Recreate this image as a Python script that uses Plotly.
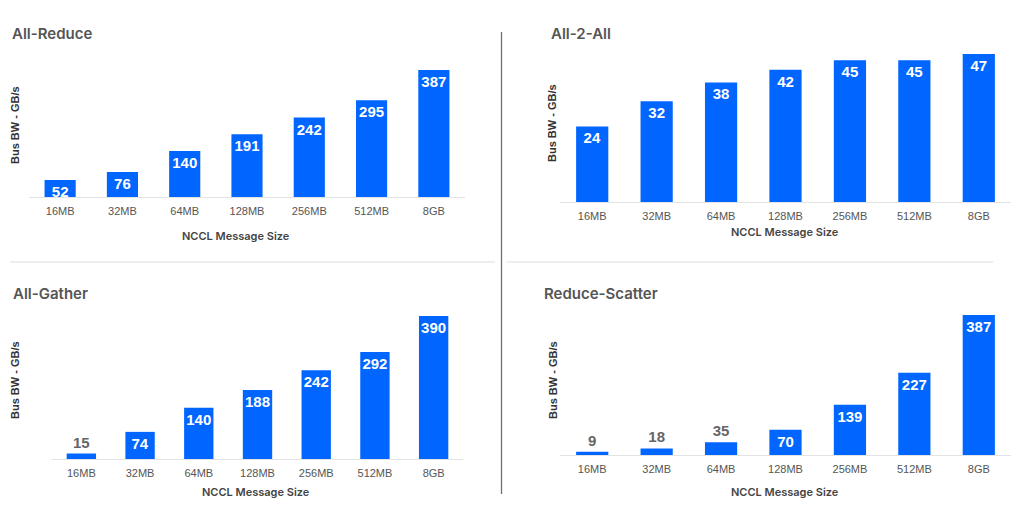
import plotly.graph_objects as go

W, H = 1024, 510

categories = ["16MB", "32MB", "64MB", "128MB", "256MB", "512MB", "8GB"]
titles = ["All-Reduce", "All-2-All", "All-Gather", "Reduce-Scatter"]
all_reduce = [52, 76, 140, 191, 242, 295, 387]
all_2_all = [24, 32, 38, 42, 45, 45, 47]
all_gather = [15, 74, 140, 188, 242, 292, 390]
reduce_scatter = [9, 18, 35, 70, 139, 227, 387]
series = [all_reduce, all_2_all, all_gather, reduce_scatter]

y_title = "Bus BW - GB/s"
x_title = "NCCL Message Size"

# layout in pixels: (x_left, x_right, y_top, y_bottom, ymax)
panels = [
    (29, 465, 59.2, 197, 420),
    (560, 1011, 44.6, 202, 50),
    (52, 463, 305, 459, 420),
    (560, 1011, 303, 455, 420),
]
title_pos = [(10, 34), (549, 34), (11, 293), (542, 293)]
ytitle_pos = [(15, 125), (552, 123), (15, 380), (553, 380)]
xtitle_pos = [(236, 236), (785, 232), (256, 492), (785, 492)]

BLUE = "#0066FF"
GREY = "#666666"

def px_x(v):
    return v / W

def px_y(v):
    return 1 - v / H

fig = go.Figure()
annotations = []
for i, (vals, (xl, xr, yt, yb, ymax)) in enumerate(zip(series, panels)):
    n = i + 1
    xa = "x" if n == 1 else f"x{n}"
    ya = "y" if n == 1 else f"y{n}"
    vmax = max(vals)
    positions = ["outside" if v < 0.1 * vmax else "inside" for v in vals]
    fig.add_trace(go.Bar(
        x=categories, y=vals, xaxis=xa, yaxis=ya,
        marker=dict(color=BLUE, line=dict(width=0)),
        width=0.5,
        text=[str(v) for v in vals],
        textposition=positions,
        insidetextanchor="end",
        constraintext="none",
        textangle=0,
        cliponaxis=False,
        textfont=dict(family="Liberation Sans, Arial", size=15, weight=700),
        insidetextfont=dict(color="white", family="Liberation Sans, Arial", size=15, weight=700),
        outsidetextfont=dict(color=GREY, family="Liberation Sans, Arial", size=15, weight=700),
        hoverinfo="x+y",
        showlegend=False,
    ))
    xkey = "xaxis" if n == 1 else f"xaxis{n}"
    ykey = "yaxis" if n == 1 else f"yaxis{n}"
    fig.layout[xkey] = dict(
        domain=[px_x(xl), px_x(xr)], anchor=ya,
        showline=True, linecolor="#e3e3e3", linewidth=1,
        showgrid=False, zeroline=False,
        ticks="outside", ticklen=4, tickcolor="rgba(0,0,0,0)",
        tickfont=dict(family="Liberation Sans, Arial", size=11, color="#555555"),
        fixedrange=True,
    )
    fig.layout[ykey] = dict(
        domain=[px_y(yb), px_y(yt)], anchor=xa,
        range=[0, ymax], visible=False, fixedrange=True,
    )
    tx, ty = title_pos[i]
    annotations.append(dict(
        text=titles[i], x=px_x(tx), y=px_y(ty), xref="paper", yref="paper",
        xanchor="left", yanchor="middle", showarrow=False,
        font=dict(family="Inter, Open Sans", size=15, color="#555555", weight=600),
    ))
    yx, yy = ytitle_pos[i]
    annotations.append(dict(
        text=y_title, x=px_x(yx), y=px_y(yy), xref="paper", yref="paper",
        xanchor="center", yanchor="middle", showarrow=False, textangle=-90,
        font=dict(family="Liberation Sans, Arial", size=11, color="#333333", weight=700),
    ))
    xx, xy = xtitle_pos[i]
    annotations.append(dict(
        text=x_title, x=px_x(xx), y=px_y(xy), xref="paper", yref="paper",
        xanchor="center", yanchor="middle", showarrow=False,
        font=dict(family="Inter, Open Sans", size=11, color="#444444", weight=600),
    ))

shapes = [
    dict(type="line", xref="paper", yref="paper",
         x0=px_x(501.5), x1=px_x(501.5), y0=px_y(32), y1=px_y(494),
         line=dict(color="#707070", width=1.3)),
    dict(type="line", xref="paper", yref="paper",
         x0=px_x(10), x1=px_x(495), y0=px_y(262), y1=px_y(262),
         line=dict(color="#dddddd", width=1)),
    dict(type="line", xref="paper", yref="paper",
         x0=px_x(507), x1=px_x(993), y0=px_y(262), y1=px_y(262),
         line=dict(color="#dddddd", width=1)),
]

fig.update_layout(
    width=W, height=H,
    margin=dict(l=0, r=0, t=0, b=0),
    paper_bgcolor="white", plot_bgcolor="white",
    annotations=annotations, shapes=shapes,
    bargap=0.5,
)

fig.write_html(
    "out.html",
    config={"displayModeBar": False},
    post_script="document.body.style.margin='0';document.body.style.overflow='hidden';",
)
